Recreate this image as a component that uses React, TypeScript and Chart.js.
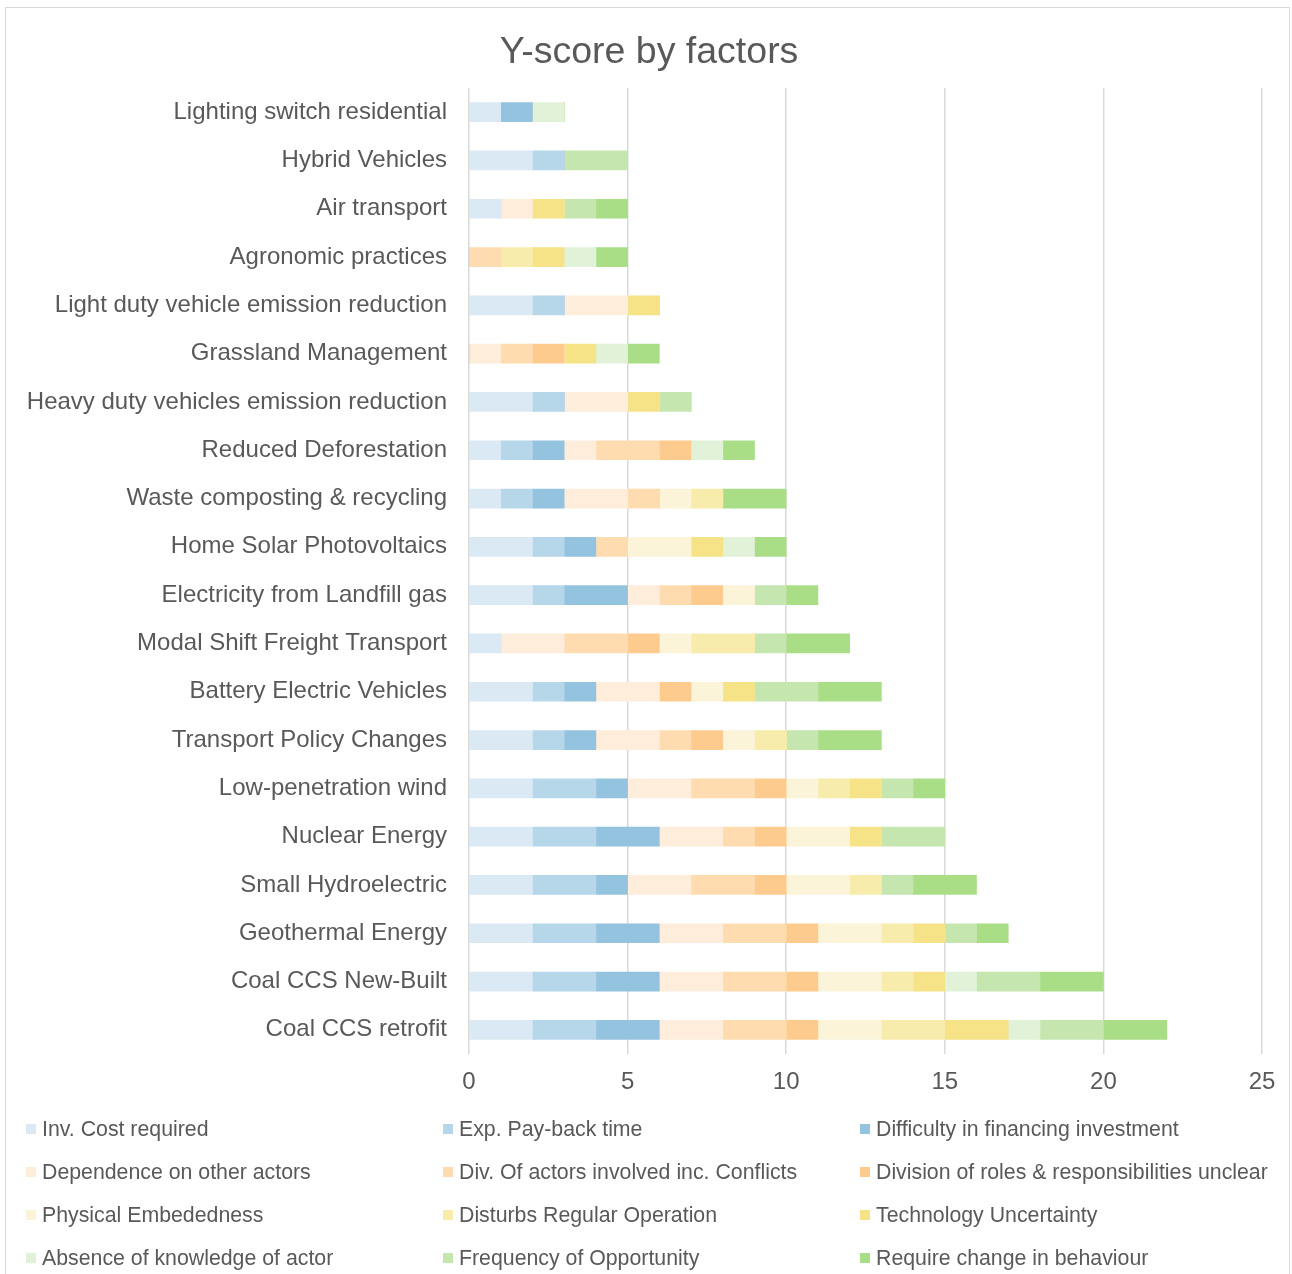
import React, { useEffect, useRef } from "react";
import { Chart, registerables } from "chart.js";

Chart.register(...registerables);

const FONT = "'Liberation Sans', Arial, sans-serif";
const TEXT = "#595959";
const TITLE = "Y-score by factors";

const categories = [
  "Lighting switch residential",
  "Hybrid Vehicles",
  "Air transport",
  "Agronomic practices",
  "Light duty vehicle emission reduction",
  "Grassland Management",
  "Heavy duty vehicles emission reduction",
  "Reduced Deforestation",
  "Waste composting & recycling",
  "Home Solar Photovoltaics",
  "Electricity from Landfill gas",
  "Modal Shift Freight Transport",
  "Battery Electric Vehicles",
  "Transport Policy Changes",
  "Low-penetration wind",
  "Nuclear Energy",
  "Small Hydroelectric",
  "Geothermal Energy",
  "Coal CCS New-Built",
  "Coal CCS retrofit",
];

const invCost = [1, 2, 1, 0, 2, 0, 2, 1, 1, 2, 2, 1, 2, 2, 2, 2, 2, 2, 2, 2];
const payBack = [0, 1, 0, 0, 1, 0, 1, 1, 1, 1, 1, 0, 1, 1, 2, 2, 2, 2, 2, 2];
const financing = [1, 0, 0, 0, 0, 0, 0, 1, 1, 1, 2, 0, 1, 1, 1, 2, 1, 2, 2, 2];
const dependence = [0, 0, 1, 0, 2, 1, 2, 1, 2, 0, 1, 2, 2, 2, 2, 2, 2, 2, 2, 2];
const diversity = [0, 0, 0, 1, 0, 1, 0, 2, 1, 1, 1, 2, 0, 1, 2, 1, 2, 2, 2, 2];
const roles = [0, 0, 0, 0, 0, 1, 0, 1, 0, 0, 1, 1, 1, 1, 1, 1, 1, 1, 1, 1];
const physical = [0, 0, 0, 0, 0, 0, 0, 0, 1, 2, 1, 1, 1, 1, 1, 2, 2, 2, 2, 2];
const disturbs = [0, 0, 0, 1, 0, 0, 0, 0, 1, 0, 0, 2, 0, 1, 1, 0, 1, 1, 1, 2];
const techUncertainty = [0, 0, 1, 1, 1, 1, 1, 0, 0, 1, 0, 0, 1, 0, 1, 1, 0, 1, 1, 2];
const knowledge = [1, 0, 0, 1, 0, 1, 0, 1, 0, 1, 0, 0, 0, 0, 0, 0, 0, 0, 1, 1];
const opportunity = [0, 2, 1, 0, 0, 0, 1, 0, 0, 0, 1, 1, 2, 1, 1, 2, 1, 1, 2, 2];
const behaviour = [0, 0, 1, 1, 0, 1, 0, 1, 2, 1, 1, 2, 2, 2, 1, 0, 2, 1, 2, 2];

const factorNames = [
  "Inv. Cost required",
  "Exp. Pay-back time",
  "Difficulty in financing investment",
  "Dependence on other actors",
  "Div. Of actors involved inc. Conflicts",
  "Division of roles & responsibilities unclear",
  "Physical Embededness",
  "Disturbs Regular Operation",
  "Technology Uncertainty",
  "Absence of knowledge of actor",
  "Frequency of Opportunity",
  "Require change in behaviour",
];

const factorValues = [
  invCost, payBack, financing, dependence, diversity, roles,
  physical, disturbs, techUncertainty, knowledge, opportunity, behaviour,
];

const factorColors = [
  "#DAE9F3", "#B6D6EA", "#94C3E0",
  "#FEEDDA", "#FEDCB0", "#FECB8E",
  "#FBF4D8", "#F8ECAC", "#F6E387",
  "#E2F2D8", "#C6E6AF", "#A9DE87",
];

const xTicks = [0, 5, 10, 15, 20, 25];

// Outer frame and title, centred on the frame rather than the plot
const framePlugin = {
  id: "frame",
  beforeDraw(chart: any) {
    const ctx = chart.ctx;
    ctx.save();
    ctx.strokeStyle = "#D9D9D9";
    ctx.lineWidth = 1;
    ctx.strokeRect(5.5, 7.5, 1284, 1300);
    ctx.fillStyle = TEXT;
    ctx.font = `37.5px ${FONT}`;
    ctx.textAlign = "center";
    ctx.textBaseline = "alphabetic";
    ctx.fillText(TITLE, 649, 63);
    ctx.restore();
  },
};

// Three-column legend under the x axis
const gridLegendPlugin = {
  id: "gridLegend",
  afterDraw(chart: any) {
    const ctx = chart.ctx;
    ctx.save();
    ctx.font = `21.3px ${FONT}`;
    ctx.textBaseline = "middle";
    ctx.textAlign = "left";
    chart.data.datasets.forEach((ds: any, i: number) => {
      const col = i % 3;
      const row = Math.floor(i / 3);
      const x = 26 + col * 417;
      const y = 1129 + row * 43;
      ctx.fillStyle = ds.backgroundColor;
      ctx.fillRect(x, y - 5, 10, 10);
      ctx.fillStyle = TEXT;
      ctx.fillText(ds.label, x + 16, y + 1);
    });
    ctx.restore();
  },
};

export default function App() {
  const canvasRef = useRef<HTMLCanvasElement>(null);

  useEffect(() => {
    if (!canvasRef.current) return;
    const chart = new Chart(canvasRef.current, {
      type: "bar",
      data: {
        labels: categories,
        datasets: factorNames.map((name, i) => ({
          label: name,
          data: factorValues[i],
          backgroundColor: factorColors[i],
          borderWidth: 0,
          barThickness: 19,
        })),
      },
      options: {
        indexAxis: "y",
        responsive: false,
        animation: false,
        layout: { padding: { left: 0, right: 30, top: 88, bottom: 0 } },
        plugins: {
          legend: { display: false },
          tooltip: { enabled: false },
          title: { display: false },
        },
        scales: {
          x: {
            stacked: true,
            min: 0,
            max: 25,
            afterBuildTicks: (scale: any) => {
              scale.ticks = xTicks.map((v) => ({ value: v }));
            },
            afterFit: (scale: any) => {
              scale.height = 220;
            },
            grid: {
              color: "#D9D9D9",
              lineWidth: 1.5,
              drawTicks: false,
            },
            border: { display: false },
            ticks: {
              color: TEXT,
              padding: 14,
              font: { family: FONT, size: 24 },
            },
          },
          y: {
            stacked: true,
            afterFit: (scale: any) => {
              scale.width = 469;
            },
            grid: { display: false, drawTicks: false },
            border: { display: false },
            ticks: {
              color: TEXT,
              padding: 22,
              autoSkip: false,
              font: { family: FONT, size: 24 },
            },
          },
        },
      },
      plugins: [framePlugin, gridLegendPlugin],
    } as any);
    return () => chart.destroy();
  }, []);

  return (
    <div style={{ position: "absolute", left: 0, top: 0, width: 1292, height: 1274, overflow: "hidden" }}>
      <canvas ref={canvasRef} width={1292} height={1274} style={{ display: "block" }} />
    </div>
  );
}
